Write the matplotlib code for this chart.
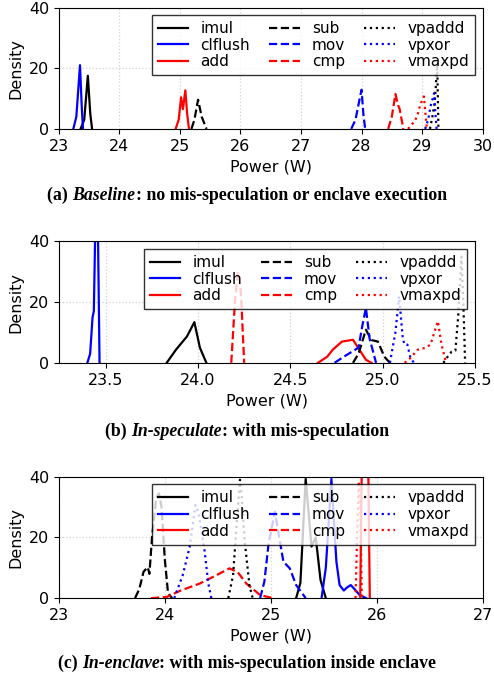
import matplotlib
matplotlib.use("Agg")
import matplotlib.pyplot as plt

# series order / styles used by all three panels
names = ["imul", "clflush", "add", "sub", "mov", "cmp", "vpaddd", "vpxor", "vmaxpd"]
colors = ["k", "b", "r", "k", "b", "r", "k", "b", "r"]
styles = ["-", "-", "-", "--", "--", "--", ":", ":", ":"]

# (a) Baseline: density curves as (power, density) points
base_imul = [(23.36, 0), (23.42, 3), (23.48, 17.5), (23.52, 5), (23.55, 0)]
base_clflush = [(23.24, 0), (23.29, 4), (23.35, 21), (23.38, 7), (23.40, 0)]
base_add = [(24.93, 0), (24.98, 3), (25.02, 10.4), (25.05, 6.5), (25.09, 12.7), (25.12, 5), (25.15, 0)]
base_sub = [(25.19, 0), (25.24, 3), (25.30, 9.6), (25.36, 4), (25.44, 0)]
base_mov = [(27.83, 0), (27.90, 3), (27.96, 9), (28.00, 12.9), (28.03, 5), (28.06, 0)]
base_cmp = [(28.44, 0), (28.50, 4), (28.56, 11.5), (28.60, 8), (28.63, 6.5), (28.69, 0)]
base_vpaddd = [(29.13, 0), (29.17, 4), (29.21, 9), (29.25, 21), (29.27, 0)]
base_vpxor = [(29.05, 0), (29.10, 3), (29.14, 7.5), (29.20, 11.8), (29.22, 5), (29.24, 0)]
base_vmaxpd = [(28.77, 0), (28.83, 1.5), (28.88, 2.5), (28.93, 5), (28.97, 8), (29.03, 10.7), (29.06, 4), (29.08, 0)]

# (b) In-speculate
spec_imul = [(23.83, 0), (23.88, 4.3), (23.94, 8.7), (23.98, 13.4), (24.01, 5), (24.045, 0)]
spec_clflush = [(23.40, 0), (23.415, 3), (23.428, 15), (23.435, 17), (23.443, 45), (23.45, 60), (23.457, 45), (23.466, 0)]
spec_add = [(24.65, 0), (24.70, 2), (24.73, 4.3), (24.78, 7.0), (24.84, 7.6), (24.875, 4.3), (24.91, 1), (24.94, 0)]
spec_sub = [(24.84, 0), (24.87, 3), (24.91, 10.9), (24.94, 7.5), (24.975, 7), (25.01, 2), (25.04, 0)]
spec_mov = [(24.74, 0), (24.79, 2), (24.83, 3.5), (24.87, 5), (24.89, 12), (24.91, 18.1), (24.93, 8), (24.965, 0)]
spec_cmp = [(24.18, 0), (24.20, 20), (24.215, 29.6), (24.225, 29), (24.235, 20), (24.25, 0)]
spec_vpaddd = [(25.33, 0), (25.36, 2.6), (25.375, 3.7), (25.395, 4), (25.41, 15), (25.428, 35), (25.438, 20), (25.448, 0)]
spec_vpxor = [(25.04, 0), (25.07, 10), (25.09, 21.9), (25.11, 8), (25.12, 6), (25.135, 6), (25.15, 2), (25.17, 0)]
spec_vmaxpd = [(25.12, 0), (25.15, 1.5), (25.19, 4.3), (25.23, 4.9), (25.26, 6), (25.30, 13.7), (25.32, 6), (25.345, 0)]

# (c) In-enclave
encl_imul = [(25.24, 0), (25.28, 5), (25.33, 39.3), (25.385, 17), (25.425, 20), (25.47, 6), (25.52, 0)]
encl_clflush = [(25.48, 0), (25.52, 10), (25.573, 39.3), (25.62, 12), (25.65, 4.3), (25.69, 2.5), (25.72, 3.5),
                (25.755, 4.3), (25.79, 3), (25.84, 1), (25.90, 0)]
encl_add = [(25.845, 0), (25.86, 45), (25.875, 65), (25.89, 55), (25.905, 65), (25.92, 45), (25.935, 0)]
encl_sub = [(23.72, 0), (23.76, 3), (23.80, 8.7), (23.84, 10.2), (23.855, 8), (23.88, 20), (23.92, 33),
            (23.945, 34.5), (23.97, 30), (24.00, 13), (24.03, 2), (24.05, 0.8), (24.07, 0)]
encl_mov = [(24.90, 0), (24.94, 5.4), (24.98, 18), (25.04, 28.5), (25.08, 20), (25.12, 12), (25.18, 9.8),
            (25.24, 4.3), (25.33, 0)]
encl_cmp = [(23.87, 0), (24.02, 0.4), (24.15, 2.5), (24.33, 4.8), (24.49, 7.6), (24.61, 9.8), (24.69, 8.5),
            (24.77, 4.8), (24.90, 1), (25.02, 0)]
encl_vpaddd = [(24.60, 0), (24.645, 7.6), (24.68, 25), (24.71, 39), (24.73, 32), (24.755, 18.6), (24.80, 4), (24.83, 0)]
encl_vpxor = [(24.09, 0), (24.17, 7.6), (24.236, 17), (24.29, 30.7), (24.32, 28), (24.377, 15.3), (24.41, 5), (24.44, 0)]
encl_vmaxpd = [(25.80, 0), (25.815, 20), (25.83, 38.4), (25.845, 30), (25.86, 0)]

panels = [
    ([base_imul, base_clflush, base_add, base_sub, base_mov, base_cmp, base_vpaddd, base_vpxor, base_vmaxpd],
     (23, 30), [23, 24, 25, 26, 27, 28, 29, 30], ["23", "24", "25", "26", "27", "28", "29", "30"],
     [0.119, 0.811, 0.858, 0.178], ("(a)", "Baseline", ": no mis-speculation or enclave execution"), 1 - 195 / 682),
    ([spec_imul, spec_clflush, spec_add, spec_sub, spec_mov, spec_cmp, spec_vpaddd, spec_vpxor, spec_vmaxpd],
     (23.245, 25.5), [23.5, 24.0, 24.5, 25.0, 25.5], ["23.5", "24.0", "24.5", "25.0", "25.5"],
     [0.119, 0.468, 0.842, 0.178], ("(b)", "In-speculate", ": with mis-speculation"), 1 - 431 / 682),
    ([encl_imul, encl_clflush, encl_add, encl_sub, encl_mov, encl_cmp, encl_vpaddd, encl_vpxor, encl_vmaxpd],
     (23, 27), [23, 24, 25, 26, 27], ["23", "24", "25", "26", "27"],
     [0.119, 0.123, 0.858, 0.178], ("(c)", "In-enclave", ": with mis-speculation inside enclave"), 1 - 663 / 682),
]

fig = plt.figure(figsize=(4.94, 6.82), dpi=100)
renderer = fig.canvas.get_renderer()


def caption(y, label, emph, rest):
    # bold caption with an italic word in the middle, centred on the figure
    parts = [(label + " ", "normal"), (emph, "italic"), (rest, "normal")]
    kw = dict(fontsize=12.8, family="Liberation Serif", weight="bold", va="center", ha="left")
    widths = []
    for s, st in parts:
        a = fig.text(0, 0, s + "|", style=st, **kw)
        b = fig.text(0, 0, "|", style=st, **kw)
        widths.append((a.get_window_extent(renderer).width - b.get_window_extent(renderer).width) / fig.bbox.width)
        a.remove()
        b.remove()
    x = 0.5 - sum(widths) / 2
    for (s, st), w in zip(parts, widths):
        fig.text(x, y, s, style=st, **kw)
        x += w


for series, xlim, xticks, xlabels, rect, cap, cap_y in panels:
    ax = fig.add_axes(rect)
    for pts, name, c, ls in zip(series, names, colors, styles):
        xs = [p[0] for p in pts]
        ys = [p[1] for p in pts]
        ax.plot(xs, ys, color=c, linestyle=ls, linewidth=1.6, label=name)
    ax.set_xlim(*xlim)
    ax.set_ylim(0, 40)
    ax.set_xticks(xticks)
    ax.set_xticklabels(xlabels)
    ax.set_yticks([0, 20, 40])
    ax.tick_params(labelsize=11.5)
    ax.grid(True, linestyle=":", color="lightgray", linewidth=0.9)
    ax.set_axisbelow(True)
    ax.set_xlabel("Power (W)", fontsize=11.5)
    ax.set_ylabel("Density", fontsize=11.5)
    leg = ax.legend(ncol=3, loc="upper right", fontsize=11, fancybox=False, framealpha=0.8,
                    edgecolor="black", handlelength=2.0, labelspacing=0.1, borderpad=0.4,
                    columnspacing=1.25)
    leg.get_frame().set_linewidth(1.0)
    caption(cap_y, *cap)

fig.savefig("out.png", dpi=100)
